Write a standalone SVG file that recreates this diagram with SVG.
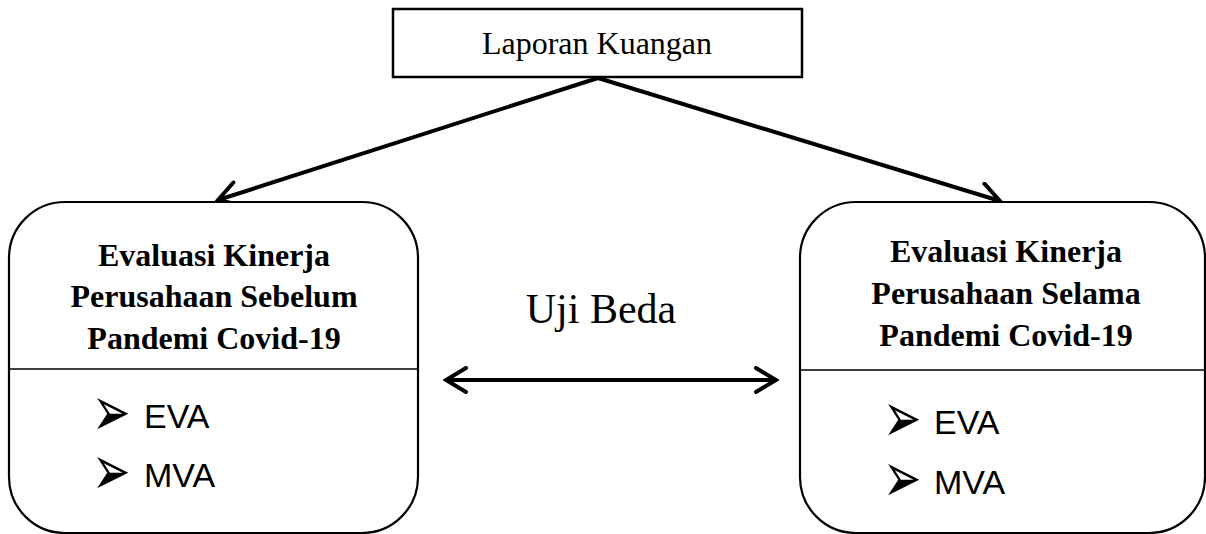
<svg xmlns="http://www.w3.org/2000/svg" width="1206" height="534" viewBox="0 0 1206 534">
  <style>
    .serif { font-family: "Liberation Serif", "Times New Roman", serif; fill: #000; }
    .title { font-weight: bold; font-size: 32px; text-anchor: middle; }
    .item { font-family: "Liberation Sans", Arial, sans-serif; font-size: 34px; fill: #000; }
    .bullet { font-family: "DejaVu Sans", sans-serif; font-size: 46px; fill: #000; }
    .box { fill: #fff; stroke: #000; stroke-width: 2.2; }
    .divider { stroke: #000; stroke-width: 1.4; }
    .link { stroke: #000; stroke-width: 4; fill: none; }
  </style>
  <defs>
    <marker id="chev" viewBox="0 0 26 28" refX="23" refY="14" markerWidth="26" markerHeight="28" markerUnits="userSpaceOnUse" orient="auto-start-reverse">
      <path d="M3,2 L23,14 L3,26" fill="none" stroke="#000" stroke-width="4" stroke-linecap="round" stroke-linejoin="miter"/>
    </marker>
  </defs>
  <rect width="1206" height="534" fill="#fff"/>

  <g id="connectors">
    <line class="link" x1="598" y1="78" x2="218" y2="200" marker-end="url(#chev)"/>
    <line class="link" x1="598" y1="78" x2="1000" y2="201" marker-end="url(#chev)"/>
    <line class="link" x1="446" y1="380" x2="776" y2="380" marker-start="url(#chev)" marker-end="url(#chev)"/>
  </g>

  <g id="laporan-kuangan">
    <rect x="393" y="9" width="409" height="68" fill="#fff" stroke="#000" stroke-width="2.5"/>
    <text class="serif" x="597" y="54" font-size="32" text-anchor="middle">Laporan Kuangan</text>
  </g>

  <g id="uji-beda">
    <text class="serif" x="601" y="323" font-size="42" text-anchor="middle">Uji Beda</text>
  </g>

  <g id="sebelum">
    <rect class="box" x="9" y="202" width="409" height="331" rx="56" ry="56"/>
    <line class="divider" x1="9" y1="369" x2="418" y2="369"/>
    <text class="serif title" x="214" y="266">Evaluasi Kinerja</text>
    <text class="serif title" x="214" y="307">Perusahaan Sebelum</text>
    <text class="serif title" x="214" y="349">Pandemi Covid-19</text>
    <text class="bullet" transform="translate(92,436) scale(1,1.55)">➢</text>
    <text class="item" x="144" y="428">EVA</text>
    <text class="bullet" transform="translate(92,495) scale(1,1.55)">➢</text>
    <text class="item" x="144" y="487">MVA</text>
  </g>

  <g id="selama">
    <rect class="box" x="800" y="202" width="405" height="331" rx="56" ry="56"/>
    <line class="divider" x1="800" y1="370" x2="1205" y2="370"/>
    <text class="serif title" x="1006" y="262">Evaluasi Kinerja</text>
    <text class="serif title" x="1006" y="304">Perusahaan Selama</text>
    <text class="serif title" x="1006" y="346">Pandemi Covid-19</text>
    <text class="bullet" transform="translate(883,442) scale(1,1.55)">➢</text>
    <text class="item" x="934" y="434">EVA</text>
    <text class="bullet" transform="translate(883,502) scale(1,1.55)">➢</text>
    <text class="item" x="934" y="494">MVA</text>
  </g>
</svg>
